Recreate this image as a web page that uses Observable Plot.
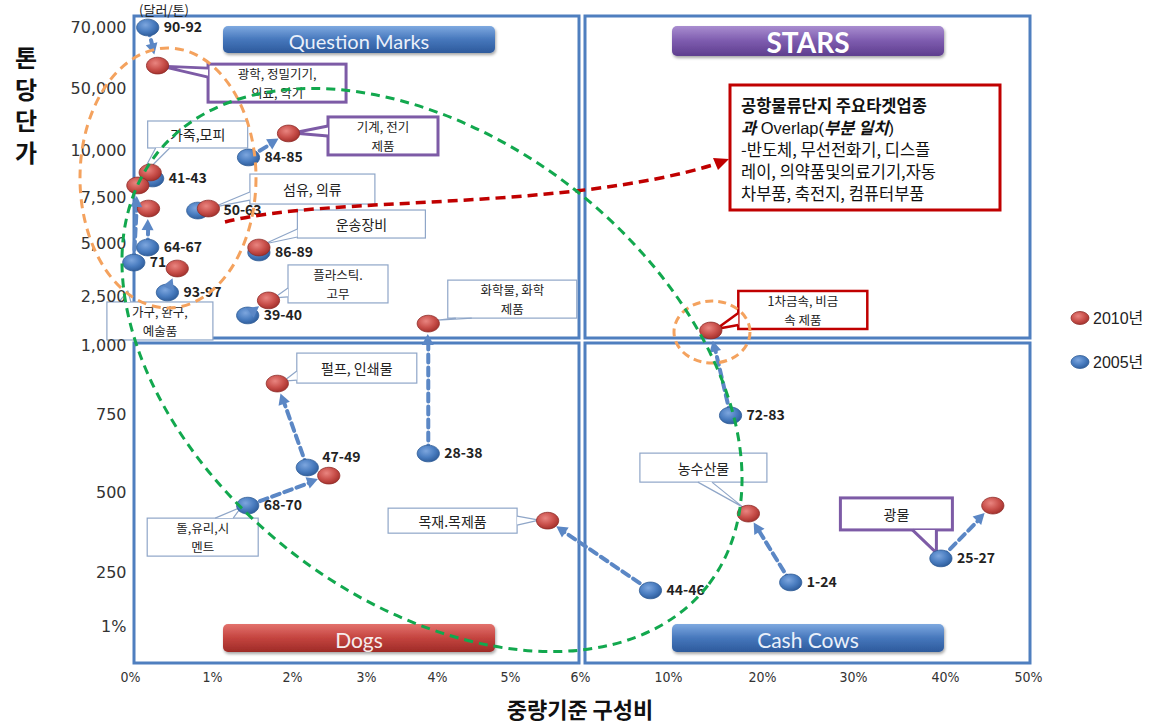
<!DOCTYPE html>
<html><head><meta charset="utf-8">
<script src="https://cdn.jsdelivr.net/npm/d3@7"></script>
<script src="https://cdn.jsdelivr.net/npm/@observablehq/plot@0.6"></script>
<style>
html,body{margin:0;padding:0;background:#fff;}
#chart{width:1162px;height:724px;}
</style></head><body><div id="chart"></div>
<script>
// ---------------- data ----------------
const codes     = ["90-92","84-85","41-43","71","64-67","50-63","86-89","93-97","39-40","28-38","47-49","68-70","44-46","72-83","1-24","25-27"];
const share2005 = [0.21, 1.45, 0.27, 0.04, 0.21, 0.82, 1.58, 0.45, 1.44, 3.87, 2.20, 1.44, 9.18, 16.6, 23.1, 39.5];
const price2005 = [70000, 9630, 8510, 4100, 4810, 6790, 4575, 2690, 1920, 625, 580, 459, 167, 747, 204, 294];
const share2010 = [0.33, 1.95, 0.24, 0.09, 0.22, 0.95, 1.58, 0.57, 1.70, 3.87, 1.81, 2.49, 5.53, 14.5, 18.5, 45.7];
const price2010 = [57500, 21000, 8830, 8140, 6900, 6900, 4810, 3820, 2380, 1670, 862, 554, 412, 1460, 434, 459];
const xTicks = [0,1,2,3,4,5,6,10,20,30,40,50];
const yTicks = [0,250,500,750,1000,2500,5000,7500,10000,50000,70000];
const yTickLabels = ["1%","250","500","750","1,000","2,500","5,000","7,500","10,000","50,000","70,000"];
const seriesNames = ["2010년","2005년"];
const quadrantNames = ["Question Marks","STARS","Dogs","Cash Cows"];
const calloutTexts = [
  ["광학, 정밀기기,","의료, 악기"],["기계, 전기","제품"],["가죽,모피"],["섬유, 의류"],["운송장비"],
  ["플라스틱.","고무"],["가구, 완구,","예술품"],["화학물, 화학","제품"],["펄프, 인쇄물"],["돌,유리,시","멘트"],
  ["목재.목제품"],["1차금속, 비금","속 제품"],["농수산물"],["광물"]
];
const calloutAnchors = [["90-92",10],["84-85",10],["41-43",10],["50-63",10],["86-89",10],["39-40",10],["93-97",5],
  ["28-38",10],["47-49",10],["68-70",5],["44-46",10],["72-83",10],["1-24",10],["25-27",5]];
const noteLines = ["공항물류단지 주요타겟업종","과 Overlap(부분 일치)","-반도체, 무선전화기, 디스플","레이, 의약품및의료기기,자동","차부품, 축전지, 컴퓨터부품"];

// ---------------- layout (pixels) ----------------
const W = 1162, H = 724;
const xPix = [130,212,292,366,437,510,580,668,762,853,945,1028];
const yPix = [626,572,492,414,345,296,243,197,150,88,27];
// callout layout: [style, offX, offY, w, h, base1, base2, tip]
const calloutLayout = [
  ["purple", 51, -1, 138, 38, [0,4],[0,13],[4,1]],
  ["purple", 40,-16, 110, 38, [0,9],[0,19],[5,0]],
  ["thin", -2,-51, 100, 27, [8,27],[22,27],[-10,6]],
  ["thin", 42,-34, 125, 30, [0,18],[0,26],[6,-1]],
  ["thin", 39,-37, 128, 28, [0,19],[0,27],[6,-3]],
  ["thin", 20,-35, 100, 38, [0,23],[0,32],[6,-2]],
  ["thin", -60, 10, 106, 38, [12,0],[24,0],[-39,-1]],
  ["thin", 20,-43, 129, 38, [8,38],[24,38],[10,-3]],
  ["thin", 20,-30, 120, 30, [0,18],[0,27],[7,-2]],
  ["thin", -100,13, 111, 38, [68,0],[86,0],[-6,2]],
  ["thin", -159,-12, 129, 25, [129,8],[129,17],[-8,0]],
  ["red", 28,-39, 129, 38, [0,22],[0,34],[6,-1]],
  ["thin", -108,-60, 127, 29, [58,29],[72,29],[-5,-6]],
  ["purple", -100,-60, 112, 32, [72,32],[96,32],[-4,-5]]
];
const styles = {purple:{stroke:"#7D5BA6", w:3}, thin:{stroke:"#8FA6C8", w:1.2}, red:{stroke:"#C00000", w:2.5}};

const pts = codes.map((c,i)=>({code:c, s05:share2005[i], p05:price2005[i], s10:share2010[i], p10:price2010[i]}));
const X = d3.scaleLinear(xTicks, xPix), Y = d3.scaleLinear(yTicks, yPix);
const pixLen = d => Math.hypot(X(d.s10)-X(d.s05), Y(d.p10)-Y(d.p05));
const arrowPts = pts.filter(d => pixLen(d) > 22);

const ellipseSym = {
  draw(ctx, size) {
    const r = Math.sqrt(size/Math.PI), rx = r*1.17, ry = r*0.88, k = 0.5523;
    ctx.moveTo(rx,0);
    ctx.bezierCurveTo(rx, ry*k, rx*k, ry, 0, ry);
    ctx.bezierCurveTo(-rx*k, ry, -rx, ry*k, -rx, 0);
    ctx.bezierCurveTo(-rx, -ry*k, -rx*k, -ry, 0, -ry);
    ctx.bezierCurveTo(rx*k, -ry, rx, -ry*k, rx, 0);
    ctx.closePath();
  }
};
const KR = "'Noto Sans CJK KR', sans-serif";
const labelFont = {fontFamily: KR, fontWeight: 700, fontSize: 14, fill: "#222", textAnchor: "start"};

const plot = Plot.plot({
  width: W, height: H,
  marginLeft: 130, marginRight: 132, marginTop: 15, marginBottom: 59,
  style: {background: "#fff", fontFamily: "'Liberation Sans', 'Noto Sans CJK KR', sans-serif", overflow: "visible"},
  x: {type: "linear", domain: xTicks, range: xPix, ticks: xTicks, tickFormat: d => d + "%", tickSize: 0, tickPadding: 7, label: null},
  y: {type: "linear", domain: yTicks, range: yPix, ticks: yTicks, tickFormat: d => yTickLabels[yTicks.indexOf(d)], tickSize: 0, tickPadding: 4, label: null},
  marks: [
    Plot.arrow(arrowPts, {x1:"s05", y1:"p05", x2:"s10", y2:"p10", stroke:"#5B87C5", strokeWidth:4, strokeDasharray:"8,5", headLength:0, insetEnd:20}),
    Plot.dot(pts, {x:"s05", y:"p05", r:9.5, symbol: ellipseSym, fill:"url(#gBlue)", stroke:"#2E5C95", strokeWidth:0.8}),
    Plot.dot(pts, {x:"s10", y:"p10", r:9.5, symbol: ellipseSym, fill:"url(#gRed)", stroke:"#8E2C28", strokeWidth:0.8}),
    Plot.text(pts.filter(d => d.code !== "47-49" && d.code !== "50-63"), {x:"s05", y:"p05", text:"code", dx:16, ...labelFont}),
    Plot.text(pts.filter(d => d.code === "50-63"), {x:"s10", y:"p10", text:"code", dx:15, dy:2, ...labelFont}),
    Plot.text(pts.filter(d => d.code === "47-49"), {x:"s05", y:"p05", text:"code", dx:15, dy:-10, ...labelFont})
  ]
});
document.getElementById("chart").appendChild(plot);

const svg = d3.select(plot);
svg.selectAll('g[aria-label="y-axis tick label"]').attr("font-size", 16).attr("font-family", "'DejaVu Sans', sans-serif").attr("fill", "#333");
svg.selectAll('g[aria-label="x-axis tick label"]').attr("font-size", 14).attr("font-family", "'Liberation Sans Narrow','DejaVu Sans Condensed', sans-serif").attr("fill", "#333");

// defs
const defs = svg.insert("defs", ":first-child");
function radial(id, c0, c1, c2) {
  const g = defs.append("radialGradient").attr("id", id).attr("cx","40%").attr("cy","35%").attr("r","70%");
  g.append("stop").attr("offset","0").attr("stop-color",c0);
  g.append("stop").attr("offset","0.55").attr("stop-color",c1);
  g.append("stop").attr("offset","1").attr("stop-color",c2);
}
radial("gRed", "#E98580", "#C9504B", "#A02D29");
radial("gBlue", "#7DA6DE", "#4A7DC0", "#2C5A98");
function linear(id, c0, c1, c2) {
  const g = defs.append("linearGradient").attr("id", id).attr("x1",0).attr("y1",0).attr("x2",0).attr("y2",1);
  g.append("stop").attr("offset","0").attr("stop-color",c0);
  g.append("stop").attr("offset","0.5").attr("stop-color",c1);
  g.append("stop").attr("offset","1").attr("stop-color",c2);
}
linear("bBlue", "#7EA9E0", "#4677BC", "#2D5A9C");
linear("bPurple", "#A98DD0", "#7D5BAE", "#5E3E8E");
linear("bRed", "#E3726D", "#C4443F", "#9E2B27");
const f = defs.append("filter").attr("id","shadow").attr("x","-10%").attr("y","-30%").attr("width","120%").attr("height","170%");
f.append("feDropShadow").attr("dx",1).attr("dy",2).attr("stdDeviation",1.5).attr("flood-opacity",0.35);

// ---------- under layer ----------
const under = svg.insert("g", "g").attr("text-anchor","start");
const frameStroke = "#4F7FBF";
[[134,16,445,322],[585,16,445,322],[134,343,445,320],[585,343,445,320]].forEach(([x,y,w,h]) =>
  under.append("rect").attr("x",x).attr("y",y).attr("width",w).attr("height",h).attr("fill","none").attr("stroke",frameStroke).attr("stroke-width",3));

const buttons = [
  [223,26,272,27,"bBlue",quadrantNames[0],20,400,"#EAF0FA"],
  [672,26,272,30,"bPurple",quadrantNames[1],28,700,"#FFFFFF"],
  [223,624,272,28,"bRed",quadrantNames[2],21,400,"#F6ECEC"],
  [672,624,272,28,"bBlue",quadrantNames[3],21,400,"#EAF0FA"]
];
buttons.forEach(([x,y,w,h,grad,t,fs,fw,col]) => {
  under.append("rect").attr("x",x).attr("y",y).attr("width",w).attr("height",h).attr("rx",5)
    .attr("fill",`url(#${grad})`).attr("filter","url(#shadow)");
  under.append("text").attr("x",x+w/2).attr("y",y+h/2+1).attr("text-anchor","middle").attr("dominant-baseline","central")
    .attr("font-family","Lato, 'Open Sans', sans-serif").attr("font-size",fs).attr("font-weight",fw).attr("fill",col).text(t);
});

calloutTexts.forEach((lines, i) => {
  const [code, yr] = calloutAnchors[i];
  const [st, ox, oy, w, h, b1, b2, tp] = calloutLayout[i];
  const d = pts.find(p => p.code === code);
  const ax = X(yr === 10 ? d.s10 : d.s05), ay = Y(yr === 10 ? d.p10 : d.p05);
  const bx = ax + ox, by = ay + oy, s = styles[st];
  under.append("rect").attr("x",bx).attr("y",by).attr("width",w).attr("height",h).attr("fill","#fff").attr("stroke",s.stroke).attr("stroke-width",s.w);
  under.append("path").attr("d",`M${bx+b1[0]},${by+b1[1]}L${ax+tp[0]},${ay+tp[1]}L${bx+b2[0]},${by+b2[1]}`)
    .attr("fill","#fff").attr("stroke",s.stroke).attr("stroke-width",s.w).attr("stroke-linejoin","round");
  const multi = lines.length > 1;
  const fs = multi ? 12.5 : 14, lh = 18.5, cy = by + h/2;
  lines.forEach((t, j) => {
    under.append("text").attr("x",bx+w/2).attr("y",cy + (j-(lines.length-1)/2)*lh).attr("text-anchor","middle")
      .attr("dominant-baseline","central").attr("font-family",KR).attr("font-size",fs).attr("fill","#222").text(t);
  });
});

// ---------- over layer ----------
const over = svg.append("g").attr("text-anchor","start");
// arrow heads
arrowPts.forEach(d => {
  const x1 = X(d.s05), y1 = Y(d.p05), x2 = X(d.s10), y2 = Y(d.p10);
  const L = Math.hypot(x2-x1, y2-y1), ux = (x2-x1)/L, uy = (y2-y1)/L;
  const tx = x2 - ux*11, ty = y2 - uy*11, bx = x2 - ux*22, by = y2 - uy*22;
  over.append("path").attr("d",`M${tx},${ty}L${bx - uy*6},${by + ux*6}L${bx + uy*6},${by - ux*6}Z`).attr("fill","#5B87C5");
});

// note box
over.append("rect").attr("x",730).attr("y",85).attr("width",270).attr("height",125).attr("fill","#fff").attr("stroke","#C00000").attr("stroke-width",3);
const note = over.append("g").attr("font-family",KR).attr("font-size",16.5).attr("fill","#111").attr("text-anchor","start");
note.append("text").attr("x",741).attr("y",112).attr("font-weight",700).text(noteLines[0]);
const l2 = note.append("text").attr("x",741).attr("y",134);
l2.append("tspan").attr("font-weight",700).attr("font-style","italic").text("과");
l2.append("tspan").attr("font-family","'Liberation Sans', sans-serif").text(" Overlap(");
l2.append("tspan").attr("font-weight",700).attr("font-style","italic").text("부분 일치");
l2.append("tspan").attr("font-family","'Liberation Sans', sans-serif").text(")");
[noteLines[2], noteLines[3], noteLines[4]].forEach((t,j) =>
  note.append("text").attr("x",741).attr("y",156 + j*22).text(t));

// red dashed curve
over.append("path").attr("d","M225,222 C330,195 560,212 716,164").attr("fill","none").attr("stroke","#C00000")
  .attr("stroke-width",3.5).attr("stroke-dasharray","10,6");
over.append("path").attr("d","M729,159 L713,158 L718,170 Z").attr("fill","#C00000");

// ellipses
const dash = "9,6";
over.append("ellipse").attr("cx",168).attr("cy",178).attr("rx",88).attr("ry",130).attr("fill","none")
  .attr("stroke","#F4A25E").attr("stroke-width",3).attr("stroke-dasharray",dash);
over.append("ellipse").attr("cx",712).attr("cy",332).attr("rx",38).attr("ry",31).attr("fill","none")
  .attr("stroke","#F4A25E").attr("stroke-width",3).attr("stroke-dasharray","8,5");
over.append("ellipse").attr("cx",0).attr("cy",0).attr("rx",350).attr("ry",230).attr("transform","translate(432,370) rotate(38)")
  .attr("fill","none").attr("stroke","#12A84E").attr("stroke-width",3).attr("stroke-dasharray",dash);

// legend
[[318,"url(#gRed)","#8E2C28",seriesNames[0]],[362,"url(#gBlue)","#2E5C95",seriesNames[1]]].forEach(([y,fill,st,t]) => {
  over.append("ellipse").attr("cx",1080).attr("cy",y).attr("rx",9).attr("ry",6.5).attr("fill",fill).attr("stroke",st).attr("stroke-width",0.8);
  over.append("text").attr("x",1093).attr("y",y).attr("dominant-baseline","central").attr("text-anchor","start")
    .attr("font-family","'Liberation Sans','Noto Sans CJK KR',sans-serif").attr("font-size",16).attr("fill","#222").text(t);
});

// titles
over.append("text").attr("x",26).attr("y",46).attr("text-anchor","start")
  .style("writing-mode","vertical-rl").style("text-orientation","upright").style("letter-spacing","7.5px")
  .attr("font-family",KR).attr("font-weight",700).attr("font-size",24).attr("fill","#111").text("톤당단가");
over.append("text").attr("x",164).attr("y",9).attr("text-anchor","middle").attr("dominant-baseline","central")
  .attr("font-family",KR).attr("font-size",13).attr("fill","#222").text("(달러/톤)");
over.append("text").attr("x",580).attr("y",708).attr("text-anchor","middle").attr("dominant-baseline","central")
  .attr("font-family",KR).attr("font-weight",700).attr("font-size",22).attr("fill","#111").text("중량기준 구성비");
</script></body></html>
